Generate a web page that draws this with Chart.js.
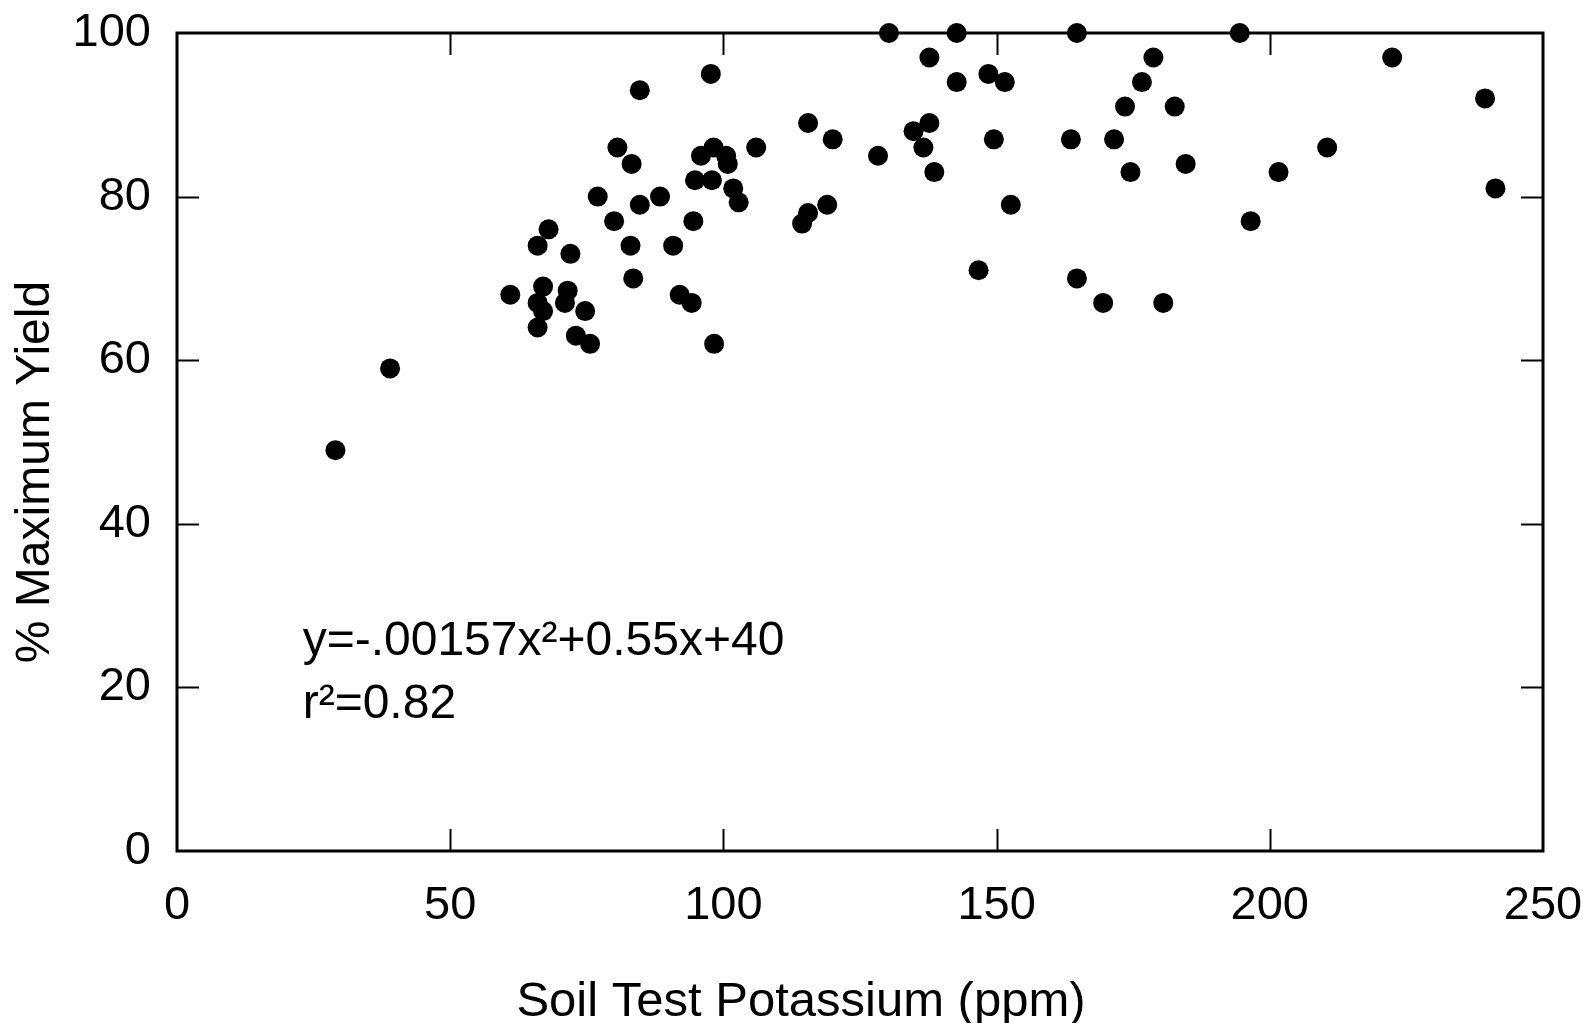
<!DOCTYPE html>
<html>
<head>
<meta charset="utf-8">
<script src="https://cdn.jsdelivr.net/npm/chart.js@4/dist/chart.umd.min.js"></script>
<style>
  html, body { margin: 0; padding: 0; background: #fff; }
  #wrap { width: 1583px; height: 1023px; }
</style>
</head>
<body>
<div id="wrap"><canvas id="potassium-chart"></canvas></div>
<script>
// soil test K (ppm) vs % of max yield
const soilK = [
  29, 39, 61, 66, 68, 67, 66, 67, 66, 72, 71.5, 71, 73, 74.7, 75.6,
  77, 80, 80.6, 83, 83.2, 83.5, 84.7, 84.7, 88.4, 90.8, 92, 94.2, 94.5,
  94.8, 95.9, 97.7, 97.9, 98.2, 98.3, 100.5, 100.8, 101.8, 102.8, 106,
  114.4, 115.5, 115.5, 119, 120, 128.3, 130.3, 134.8, 136.6, 137.7, 137.7,
  138.6, 142.7, 142.7, 146.7, 148.5, 149.5, 151.5, 152.6, 163.6, 164.7,
  164.7, 169.5, 171.5, 173.5, 174.5, 176.6, 178.7, 180.5, 182.6, 184.6,
  194.5, 196.5, 201.6, 210.5, 222.4, 239.4, 241.3
];
const pctYield = [
  49, 59, 68, 74, 76, 69, 67, 66, 64, 73, 68.5, 67, 63, 66, 62,
  80, 77, 86, 74, 84, 70, 79, 93, 80, 74, 68, 67, 77,
  82, 85, 95, 82, 86, 62, 85, 84, 81, 79.3, 86,
  76.7, 78, 89, 79, 87, 85, 100, 88, 86, 97, 89,
  83, 100, 94, 71, 95, 87, 94, 79, 87, 100,
  70, 67, 87, 91, 83, 94, 97, 67, 91, 84,
  100, 77, 83, 86, 97, 92, 81
];
const xTicks = [0, 50, 100, 150, 200, 250];
const yTicks = [0, 20, 40, 60, 80, 100];
const xTitle = "Soil Test Potassium (ppm)";
const yTitle = "% Maximum Yield";
const eqLines = ["y=-.00157x\u00b2+0.55x+40", "r\u00b2=0.82"];

const FONT = "'Liberation Sans', Arial, sans-serif";

// box round the plot with short inward ticks on all four sides
const frameTicks = {
  id: "frameTicks",
  afterDatasetsDraw(chart) {
    const { ctx, chartArea: a, scales } = chart;
    const len = 22;
    ctx.save();
    ctx.strokeStyle = "#000";
    ctx.lineWidth = 2;
    ctx.beginPath();
    xTicks.slice(1, -1).forEach((v) => {
      const px = Math.round(scales.x.getPixelForValue(v)) + 0.5;
      ctx.moveTo(px, a.bottom); ctx.lineTo(px, a.bottom - len);
      ctx.moveTo(px, a.top); ctx.lineTo(px, a.top + len);
    });
    yTicks.slice(1, -1).forEach((v) => {
      const py = Math.round(scales.y.getPixelForValue(v)) + 0.5;
      ctx.moveTo(a.left, py); ctx.lineTo(a.left + len, py);
      ctx.moveTo(a.right, py); ctx.lineTo(a.right - len, py);
    });
    ctx.stroke();
    ctx.lineWidth = 3;
    ctx.strokeRect(a.left, a.top, a.right - a.left, a.bottom - a.top);
    ctx.restore();
  },
  afterDraw(chart) {
    const { ctx, scales } = chart;
    ctx.save();
    ctx.fillStyle = "#000";
    ctx.font = "48px " + FONT;
    ctx.textAlign = "left";
    ctx.textBaseline = "alphabetic";
    const ex = scales.x.getPixelForValue(23);
    ctx.fillText(eqLines[0], ex, scales.y.getPixelForValue(24));
    ctx.fillText(eqLines[1], ex, scales.y.getPixelForValue(16.2));

    ctx.font = "49px " + FONT;
    ctx.textAlign = "center";
    ctx.textBaseline = "middle";
    ctx.fillText(xTitle, 801, 1002);
    ctx.translate(36, 472);
    ctx.rotate(-Math.PI / 2);
    ctx.font = "48px " + FONT;
    ctx.fillText(yTitle, 0, 0);
    ctx.restore();
  },
};

const points = soilK.map((k, i) => ({ x: k, y: pctYield[i] }));

// tick marks are hidden; their length only pushes the labels away from the box
const hiddenTicks = (len) => ({
  drawOnChartArea: false,
  drawTicks: true,
  tickLength: len,
  tickColor: "rgba(0,0,0,0)",
  color: "rgba(0,0,0,0)",
});

new Chart(document.getElementById("potassium-chart"), {
  type: "scatter",
  data: {
    datasets: [
      {
        data: points,
        pointRadius: 10,
        pointHoverRadius: 10,
        backgroundColor: "#000",
        borderWidth: 0,
        clip: false,
      },
    ],
  },
  options: {
    responsive: true,
    maintainAspectRatio: false,
    animation: false,
    layout: { padding: { top: 33, right: 40, left: 0, bottom: 0 } },
    plugins: {
      legend: { display: false },
      tooltip: { enabled: false },
    },
    scales: {
      x: {
        type: "linear",
        min: 0,
        max: 250,
        afterBuildTicks: (s) => { s.ticks = xTicks.map((v) => ({ value: v })); },
        afterFit: (s) => { s.height = 172; },
        ticks: { color: "#000", font: { family: FONT, size: 47 }, padding: 0, maxRotation: 0 },
        grid: hiddenTicks(27),
        border: { display: false },
      },
      y: {
        type: "linear",
        min: 0,
        max: 100,
        afterBuildTicks: (s) => { s.ticks = yTicks.map((v) => ({ value: v })); },
        afterFit: (s) => { s.width = 177; },
        ticks: { color: "#000", font: { family: FONT, size: 47 }, padding: 0 },
        grid: hiddenTicks(26),
        border: { display: false },
      },
    },
  },
  plugins: [frameTicks],
});
</script>
</body>
</html>
